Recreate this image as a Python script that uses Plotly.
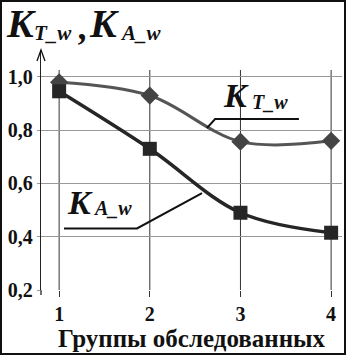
import plotly.graph_objects as go

groups = [1, 2, 3, 4]
k_t_w = [0.98, 0.93, 0.757, 0.76]
k_a_w = [0.946, 0.73, 0.49, 0.415]
y_ticks = [0.2, 0.4, 0.6, 0.8, 1.0]
y_tick_text = ["0,2", "0,4", "0,6", "0,8", "1,0"]
x_tick_text = ["1", "2", "3", "4"]

W, H = 346, 355
L, R, T, B = 41, 4, 50, 65
PW, PH = W - L - R, H - T - B

def px(x):
    return (x - L) / PW

def py(y):
    return (H - B - y) / PH

SERIF = "Liberation Serif"

fig = go.Figure()

fig.add_trace(go.Scatter(
    x=groups, y=k_t_w, mode="lines+markers",
    line=dict(color="#555555", width=3, shape="spline", smoothing=1),
    marker=dict(symbol="diamond", size=14, color="#444444"),
    showlegend=False, cliponaxis=False))
fig.add_trace(go.Scatter(
    x=groups, y=k_a_w, mode="lines+markers",
    line=dict(color="#262626", width=3.5, shape="spline", smoothing=1),
    marker=dict(symbol="square", size=14, color="#262626"),
    showlegend=False, cliponaxis=False))

shapes = []
# vertical grid lines
for g in groups:
    shapes.append(dict(type="line", xref="x", yref="y", x0=g, x1=g, y0=0.2, y1=1.026,
                       line=dict(color="#333333", width=1), layer="below"))
# y axis arrow (paper coords, unclipped)
shapes.append(dict(type="path", xref="paper", yref="paper",
                   path="M %f,%f L %f,%f L %f,%f" % (px(37), py(61), px(41), py(50), px(45), py(61)),
                   line=dict(color="#111111", width=1.3)))
# y axis extension below the x axis
shapes.append(dict(type="line", xref="paper", yref="paper",
                   x0=px(41), x1=px(41), y0=py(295), y1=py(290),
                   line=dict(color="#222222", width=1.3)))
# leader lines
shapes.append(dict(type="path", xref="x", yref="y",
                   path="M 2.63,0.808 L 2.72,0.842 L 3.645,0.842",
                   line=dict(color="#111111", width=2)))
shapes.append(dict(type="path", xref="x", yref="y",
                   path="M 2.576,0.564 L 1.859,0.431 L 1.054,0.431",
                   line=dict(color="#111111", width=2)))
# border
shapes.append(dict(type="rect", xref="paper", yref="paper",
                   x0=px(1), x1=px(W - 1), y0=py(H - 1), y1=py(1),
                   line=dict(color="#111111", width=2)))

annotations = []

def label(xp, yp, text, size):
    annotations.append(dict(xref="paper", yref="paper", x=px(xp), y=py(yp),
                            xanchor="left", yanchor="middle", showarrow=False,
                            text="<b><i>%s</i></b>" % text,
                            font=dict(family=SERIF, size=size, color="#111111")))

# title
label(4, 24, "K", 40)
label(32, 33, "T_w", 21)
label(76, 27, ",", 36)
label(87, 24, "K", 40)
label(118, 33, "A_w", 21)
# curve labels
label(221, 95, "K", 34)
label(250, 102, "T_w", 20)
label(65, 202, "K", 34)
label(91, 208, "A_w", 20)

fig.update_layout(
    width=W, height=H,
    margin=dict(l=L, r=R, t=T, b=B, pad=0),
    paper_bgcolor="white", plot_bgcolor="white",
    shapes=shapes, annotations=annotations,
    xaxis=dict(range=[0.8, 4.12], tickvals=groups, ticktext=["<b>%s</b>" % t for t in x_tick_text],
               showgrid=False, zeroline=False, showline=False,
               ticks="outside", ticklen=6, tickcolor="#333333", tickwidth=1,
               tickfont=dict(family=SERIF, size=20, color="#111111"),
               title=dict(text="<b>Группы обследованных</b>",
                          font=dict(family=SERIF, size=25, color="#111111"), standoff=5)),
    yaxis=dict(range=[0.2, 1.101], tickvals=y_ticks, ticktext=["<b>%s</b>" % t for t in y_tick_text],
               showgrid=True, gridcolor="#999999", gridwidth=1.3, zeroline=False,
               showline=True, linecolor="#222222", linewidth=1.3,
               ticks="outside", ticklen=3, tickcolor="#999999",
               tickfont=dict(family=SERIF, size=20, color="#111111")),
)

fig.write_html("out.html", config={"displayModeBar": False},
               post_script="document.body.style.margin='0';")
